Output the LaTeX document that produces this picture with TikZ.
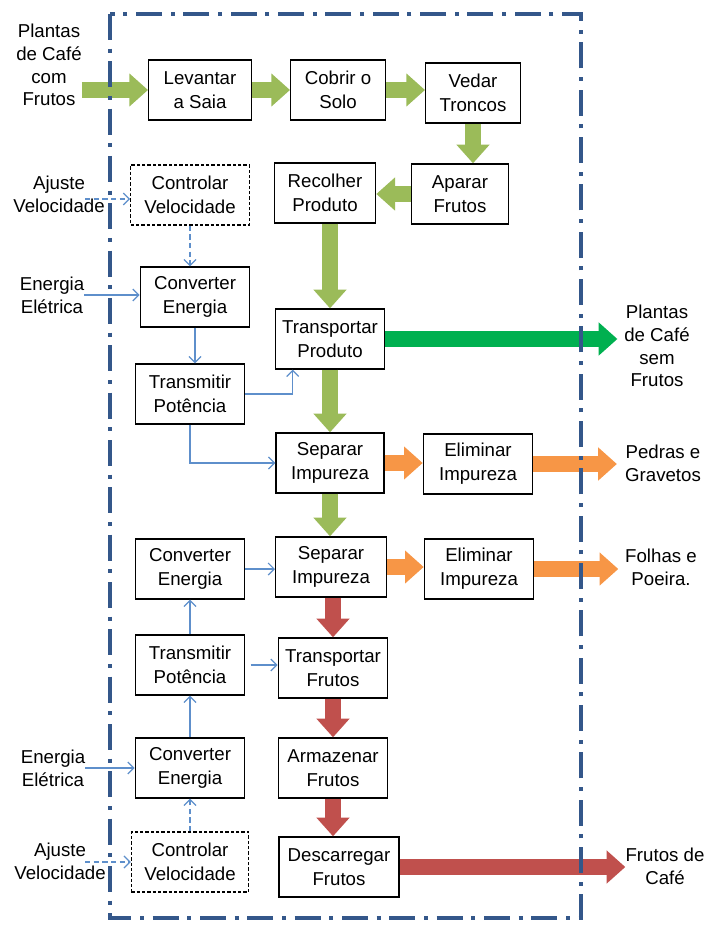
\documentclass[tikz,border=0pt]{standalone}
\usepackage{fontspec}
\setmainfont{Liberation Sans}
\usetikzlibrary{positioning,arrows.meta,calc}
\definecolor{folha}{HTML}{9BBB59}
\definecolor{verde}{HTML}{00B050}
\definecolor{laranja}{HTML}{F79646}
\definecolor{vermelho}{HTML}{C0504D}
\definecolor{azul}{HTML}{5E8FCB}
\definecolor{moldura}{HTML}{34578A}
\tikzset{
  box/.style={draw, line width=1pt, fill=white, align=center, minimum height=45pt, inner sep=1pt,
    font=\fontsize{14}{18}\selectfont},
  boxtr/.style={box, line width=0.8pt, dash pattern=on 2.5pt off 1.5pt},
  lbl/.style={align=center, inner sep=0pt, font=\fontsize{14}{17}\selectfont},
  fat/.style={line width=12pt, -{Triangle[length=14pt,width=24pt]}},
  fio/.style={azul, line width=0.9pt, -{Straight Barb[length=4.5pt,width=9pt]}},
  fiotr/.style={fio, dash pattern=on 4pt off 2.5pt},
  frame/.style={moldura, line width=3pt, dash pattern=on 19.5pt off 6.5pt on 3pt off 6.5pt}
}
\begin{document}
\begin{tikzpicture}[x=0.75pt,y=-0.75pt]
  \useasboundingbox (0,0) rectangle (707,927);

  \foreach \n/\x/\y/\w/\t in {
    lev/200/90/77/{Levantar\\a Saia},
    cob/338/90/71/{Cobrir o\\Solo},
    ved/473/93/71/{Vedar\\Troncos},
    apa/460/194/73/{Aparar\\Frutos},
    rec/325/193/76/{Recolher\\Produto},
    conv1/195/297/82/{Converter\\Energia},
    trans1/190/394/82/{Transmitir\\Potência},
    tp/330/339/82/{Transportar\\Produto},
    sep1/330/463/81/{Separar\\Impureza},
    eli1/478/464/82/{Eliminar\\Impureza},
    conv2/190/569/82/{Converter\\Energia},
    sep2/331/567/83/{Separar\\Impureza},
    eli2/479/569/82/{Eliminar\\Impureza},
    trans2/190/665/82/{Transmitir\\Potência},
    tf/333/668/82/{Transportar\\Frutos},
    conv3/190/768/82/{Converter\\Energia},
    arm/333/768/82/{Armazenar\\Frutos},
    desc/339/867/90/{Descarregar\\Frutos}} {
  \node[box, minimum width=\w pt] (\n) at (\x,\y) {\t};
  }
  \node[boxtr, minimum width=89pt] (ctl1) at (190,195) {Controlar\\Velocidade};
  \node[boxtr, minimum width=88pt] (ctl2) at (190,862) {Controlar\\Velocidade};

  \node[lbl] (plc) at (49,65) {Plantas\\de Café\\com\\Frutos};
  \node[lbl] (aj1) at (59,194) {Ajuste\\Velocidade};
  \node[lbl] (en1) at (52,295) {Energia\\Elétrica};
  \node[lbl] (psf) at (657,346) {Plantas\\de Café\\sem\\Frutos};
  \node[lbl] (ped) at (663,463) {Pedras e\\Gravetos};
  \node[lbl] (fol) at (661,567) {Folhas e\\Poeira.};
  \node[lbl] (en2) at (53,768) {Energia\\Elétrica};
  \node[lbl] (aj2) at (60,861) {Ajuste\\Velocidade};
  \node[lbl] (fdc) at (665,866) {Frutos de\\Café};

  \draw[fat,folha] (plc.east |- lev.west) -- (lev.west);
  \draw[fat,folha] (lev) -- (cob);
  \draw[fat,folha] (cob.east) -- (cob.east -| ved.west);
  \draw[fat,folha] (ved.south) -- (ved.south |- apa.north);
  \draw[fat,folha] (apa.west) -- (apa.west -| rec.east);
  \draw[fat,folha] (rec.south -| tp.north) -- (tp.north);
  \draw[fat,folha] (tp) -- (sep1);
  \draw[fat,folha] (sep1.south) -- (sep1.south |- sep2.north);
  \draw[fat,verde,shorten >=5pt] (tp.east) -- (tp.east -| psf.west);
  \draw[fat,laranja] (sep1.east) -- (sep1.east -| eli1.west);
  \draw[fat,laranja,shorten >=6pt] (eli1.east) -- (eli1.east -| ped.west);
  \draw[fat,laranja] (sep2.east) -- (sep2.east -| eli2.west);
  \draw[fat,laranja,shorten >=5pt] (eli2.east) -- (eli2.east -| fol.west);
  \draw[fat,vermelho] (sep2.south -| tf.north) -- (tf.north);
  \draw[fat,vermelho] (tf) -- (arm);
  \draw[fat,vermelho] (arm.south) -- (arm.south |- desc.north);
  \draw[fat,vermelho] (desc.east) -- (desc.east -| fdc.west);

  \coordinate (aj1o) at (85,199);
  \coordinate (aj2o) at (85,862);
  \draw[fiotr] (aj1o) -- (aj1o -| ctl1.west);
  \draw[fiotr] (ctl1.south) -- (ctl1.south |- conv1.north);
  \draw[fio] (en1.east) -- (en1.east -| conv1.west);
  \draw[fio] (conv1.south) -- (conv1.south |- trans1.north);
  \draw[fio] (trans1.east) -| ([xshift=13.5pt]tp.south west);
  \draw[fio] (trans1.south) |- (sep1.west);
  \draw[fio] (conv2.east) -- (conv2.east -| sep2.west);
  \draw[fio] (trans2.north) -- (conv2.south);
  \draw[fio,shorten <=4pt] (trans2.east) -- (trans2.east -| tf.west);
  \draw[fio] (conv3.north) -- (trans2.south);
  \draw[fio] (en2.east) -- (en2.east -| conv3.west);
  \draw[fiotr] (ctl2.north) -- (conv3.south);
  \draw[fiotr] (aj2o) -- (aj2o -| ctl2.west);

  \draw[frame] (110,14) rectangle (581,918);
\end{tikzpicture}
\end{document}
